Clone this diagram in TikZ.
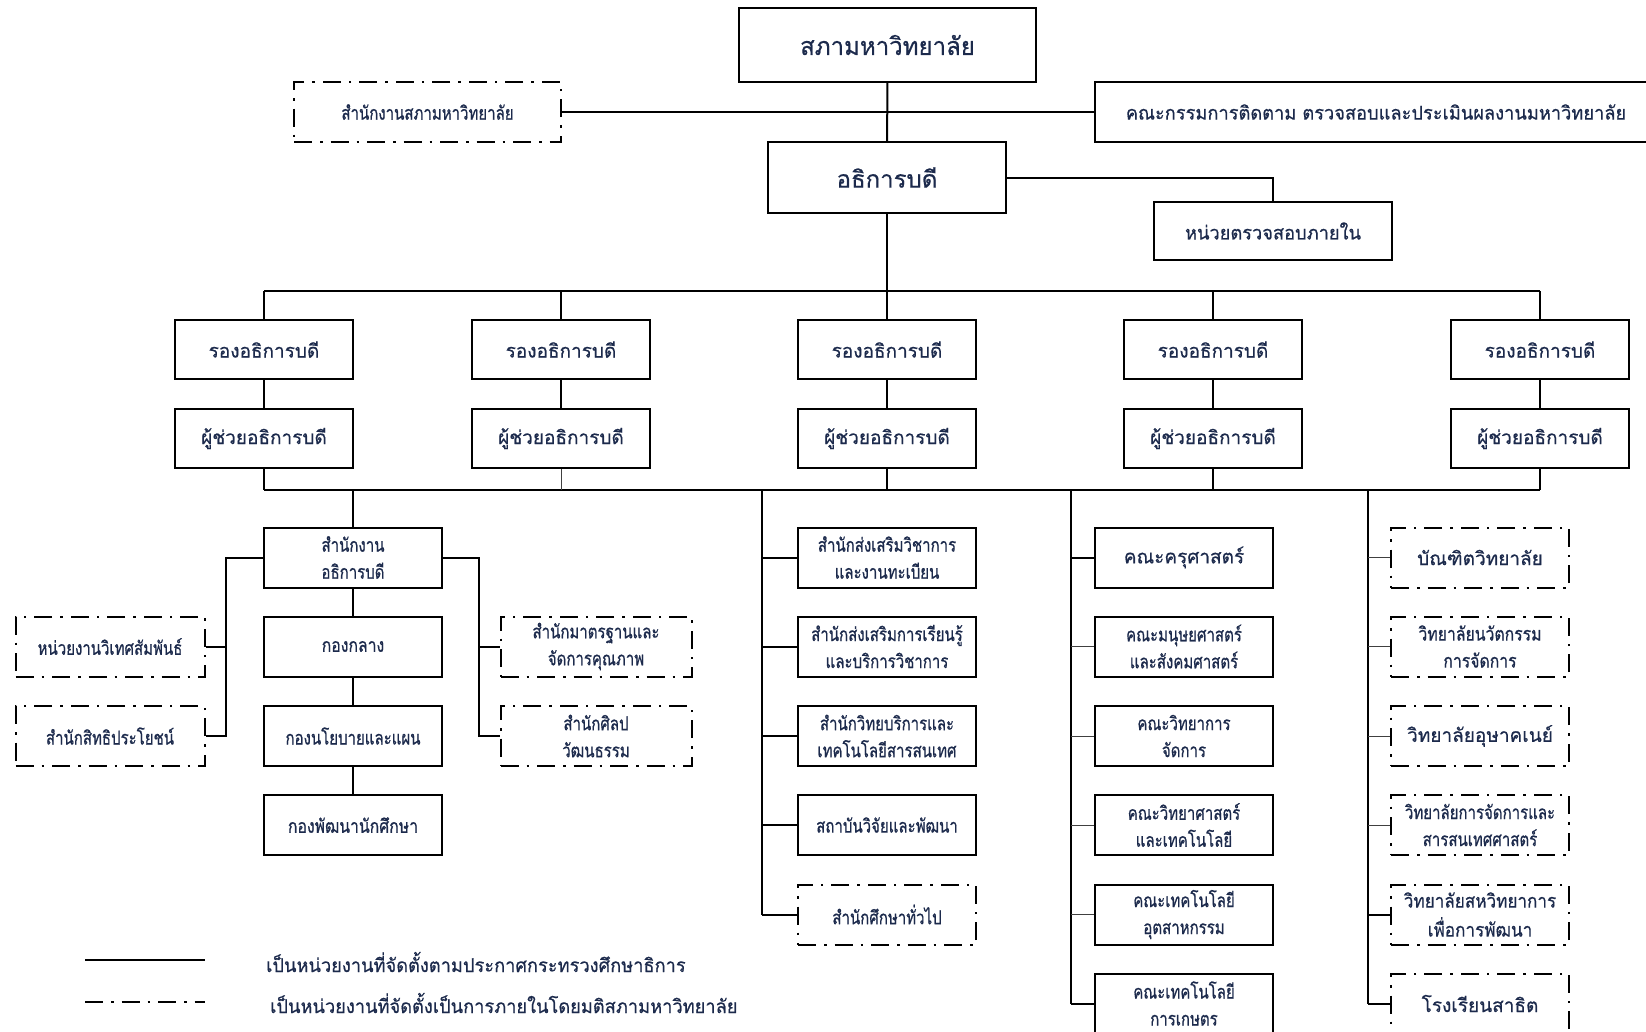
\documentclass[tikz,border=0pt]{standalone}
\usepackage{fontspec}
\newfontfamily\thaiN[Script=Thai, FakeBold=0.6]{Loma}
\newfontfamily\thaiF[Script=Thai, FakeBold=0.6, FakeStretch=0.96]{Loma}
\newfontfamily\thaiE[Script=Thai, FakeBold=0.6, FakeStretch=0.9]{Loma}
\newfontfamily\thaiD[Script=Thai, FakeBold=0.7, FakeStretch=0.83]{Loma}
\newfontfamily\thaiC[Script=Thai, FakeBold=0.7, FakeStretch=0.79]{Loma}
\definecolor{txt}{RGB}{28,42,76}
\begin{document}
\begin{tikzpicture}[x=1pt,y=-1pt,
  box/.style={draw=black, line width=2pt, minimum width=178pt, minimum height=60pt, inner sep=0pt, align=center, text=txt, font=\thaiN\fontsize{19}{27}\selectfont},
  dbox/.style={box, dash pattern=on 18pt off 8pt on 2.5pt off 8pt},
  fN/.style={font=\thaiN\fontsize{19}{27}\selectfont},
  fF/.style={font=\thaiF\fontsize{19}{27}\selectfont},
  fE/.style={font=\thaiE\fontsize{19}{29}\selectfont},
  fD/.style={font=\thaiD\fontsize{19}{27}\selectfont},
  fC/.style={font=\thaiC\fontsize{19}{27}\selectfont},
  ln/.style={line width=2pt},
  thn/.style={line width=1pt, draw=black!75},
  dashdot/.style={line width=2pt, dash pattern=on 18pt off 8pt on 2.5pt off 8pt},
  lgtext/.style={anchor=west, inner sep=0pt, text=txt, font=\thaiF\fontsize{19}{24}\selectfont},
]
\useasboundingbox (0,0) rectangle (1646,1031);
\clip (0,0) rectangle (1646,1031);

% top level
\node[box, minimum width=297pt, minimum height=74pt, font=\thaiF\fontsize{25}{30}\selectfont] (council) at (887.5,45) {สภามหาวิทยาลัย};
\node[dbox, fC, minimum width=267pt, minimum height=60pt] (seccouncil) at (427.5,112) {สำนักงานสภามหาวิทยาลัย};
\node[box, fF, minimum width=562pt, minimum height=60pt] (committee) at (1376,112) {คณะกรรมการติดตาม ตรวจสอบและประเมินผลงานมหาวิทยาลัย};
\node[box, minimum width=238pt, minimum height=71pt, font=\thaiN\fontsize{24}{30}\selectfont] (pres) at (887,177.5) {อธิการบดี};
\node[box, fF, minimum width=238pt, minimum height=58pt] (audit) at (1273,231) {หน่วยตรวจสอบภายใน};

\draw[ln] (council) -- (pres);
\draw[ln] (seccouncil.east) -- (committee.west);
\draw[ln] (pres.east) -- (audit.north |- pres.east) -- (audit.north);

% vice presidents
\coordinate (bus1) at (887,291);
\coordinate (bus2) at (887,490);
\foreach \x [count=\i] in {264,561,887,1213,1540} {
  \node[box, minimum height=59pt] (vp\i) at (\x,349.5) {รองอธิการบดี};
  \node[box, minimum height=59pt] (as\i) at (\x,438.5) {ผู้ช่วยอธิการบดี};
}
\draw[ln] (pres.south) -- (bus1);
\draw[ln] (vp1.north |- bus1) -- (vp5.north |- bus1);
\draw[ln] (as1.south |- bus2) -- (as5.south |- bus2);
\foreach \i in {1,...,5} {
  \draw[ln] (vp\i.north |- bus1) -- (vp\i.north);
  \draw[ln] (vp\i) -- (as\i);
}
\draw[ln] (as1.south) -- (as1.south |- bus2);
\draw[thn] (as2.south) -- (as2.south |- bus2);
\draw[ln] (as3.south) -- (as3.south |- bus2);
\draw[ln] (as4.south) -- (as4.south |- bus2);
\draw[ln] (as5.south) -- (as5.south |- bus2);

% column A
\node[box, fC] (a0) at (353,557.5) {สำนักงาน\\อธิการบดี};
\node[box, fD] (a1) at (353,646.5) {กองกลาง};
\node[box, fC] (a2) at (353,736) {กองนโยบายและแผน};
\node[box, fD] (a3) at (353,825) {กองพัฒนานักศึกษา};
\node[dbox, fC, minimum width=189pt] (l1) at (110,646.5) {หน่วยงานวิเทศสัมพันธ์};
\node[dbox, fC, minimum width=189pt] (l2) at (110,736) {สำนักสิทธิประโยชน์};
\node[dbox, fC, minimum width=191pt] (r1) at (596,646.5) {สำนักมาตรฐานและ\\จัดการคุณภาพ};
\node[dbox, fC, minimum width=191pt] (r2) at (596,736) {สำนักศิลป\\วัฒนธรรม};
\coordinate (lb) at (226,0);
\coordinate (rb) at (479,0);
\draw[ln] (a0.north |- bus2) -- (a0.north);
\draw[ln] (a0) -- (a1);
\draw[ln] (a1) -- (a2);
\draw[ln] (a2) -- (a3);
\draw[ln] (a0.west) -- (lb |- a0.west) -- (lb |- l2.east) -- (l2.east);
\draw[ln] (lb |- l1.east) -- (l1.east);
\draw[ln] (a0.east) -- (rb |- a0.east) -- (rb |- r2.west) -- (r2.west);
\draw[ln] (rb |- r1.west) -- (r1.west);

% column B
\node[box, fC] (b0) at (887,557.5) {สำนักส่งเสริมวิชาการ\\และงานทะเบียน};
\node[box, fC] (b1) at (887,646.5) {สำนักส่งเสริมการเรียนรู้\\และบริการวิชาการ};
\node[box, fC] (b2) at (887,736) {สำนักวิทยบริการและ\\เทคโนโลยีสารสนเทศ};
\node[box, fC] (b3) at (887,825) {สถาบันวิจัยและพัฒนา};
\node[dbox, fC] (b4) at (887,914.5) {สำนักศึกษาทั่วไป};
\coordinate (cb) at (762,0);
\draw[ln] (cb |- bus2) -- (cb |- b4.west);
\foreach \i in {0,...,4} \draw[ln] (cb |- b\i.west) -- (b\i.west);

% column C
\node[box] (c0) at (1184,557.5) {คณะครุศาสตร์};
\node[box, fC] (c1) at (1184,646.5) {คณะมนุษยศาสตร์\\และสังคมศาสตร์};
\node[box, fC] (c2) at (1184,736) {คณะวิทยาการ\\จัดการ};
\node[box, fC] (c3) at (1184,825) {คณะวิทยาศาสตร์\\และเทคโนโลยี};
\node[box, fC] (c4) at (1184,914.5) {คณะเทคโนโลยี\\อุตสาหกรรม};
\node[box, fC] (c5) at (1184,1003.5) {คณะเทคโนโลยี\\การเกษตร};
\coordinate (cc) at (1071,0);
\draw[ln] (cc |- bus2) -- (cc |- c5.west);
\draw[ln] (cc |- c0.west) -- (c0.west);
\foreach \i in {1,...,4} \draw[thn] (cc |- c\i.west) -- (c\i.west);
\draw[ln] (cc |- c5.west) -- (c5.west);

% column D
\node[dbox] (d0) at (1480,557.5) {บัณฑิตวิทยาลัย};
\node[dbox, fD] (d1) at (1480,646.5) {วิทยาลัยนวัตกรรม\\การจัดการ};
\node[dbox] (d2) at (1480,736) {วิทยาลัยอุษาคเนย์};
\node[dbox, fC] (d3) at (1480,825) {วิทยาลัยการจัดการและ\\สารสนเทศศาสตร์};
\node[dbox, fE] (d4) at (1480,914.5) {วิทยาลัยสหวิทยาการ\\เพื่อการพัฒนา};
\node[dbox] (d5) at (1480,1003.5) {โรงเรียนสาธิต};
\coordinate (cd) at (1368,0);
\draw[ln] (cd |- bus2) -- (cd |- d5.west);
\foreach \i in {0,...,3} \draw[thn] (cd |- d\i.west) -- (d\i.west);
\draw[ln] (cd |- d4.west) -- (d4.west);
\draw[ln] (cd |- d5.west) -- (d5.west);

% legend
\coordinate (lga) at (85,960);
\coordinate (lgb) at (205,960);
\coordinate (lgc) at (85,1002);
\coordinate (lgd) at (205,1002);
\draw[ln] (lga) -- (lgb);
\draw[dashdot] (lgc) -- (lgd);
\node[lgtext] (lgt1) at (266,962) {เป็นหน่วยงานที่จัดตั้งตามประกาศกระทรวงศึกษาธิการ};
\node[lgtext] (lgt2) at (270,1003) {เป็นหน่วยงานที่จัดตั้งเป็นการภายในโดยมติสภามหาวิทยาลัย};
\end{tikzpicture}
\end{document}
